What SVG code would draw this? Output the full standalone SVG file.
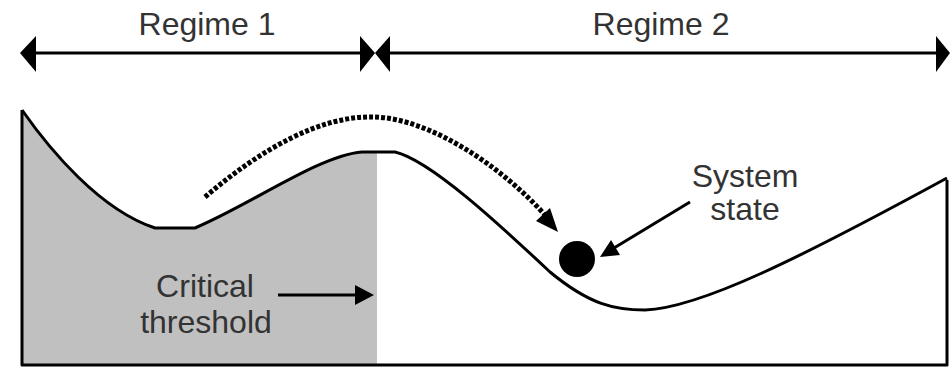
<svg xmlns="http://www.w3.org/2000/svg" width="951" height="368" viewBox="0 0 951 368">
<style>
.lbl{font-family:"Liberation Sans",Arial,sans-serif;font-size:32px;fill:#333;text-anchor:middle}
.ln{stroke:#000;stroke-width:3;fill:none;stroke-linejoin:round}
.head{fill:#000}
</style>
<rect width="951" height="368" fill="#fff"/>
<g id="threshold-region">
<path d="M22,110 C50,150 100,210 155,228 L195,228 C250,205 320,155 362,152 L377,152 L377,365 L22,365 Z" fill="#c0c0c0"/>
</g>
<g id="landscape">
<path class="ln" d="M22,110 C50,150 100,210 155,228 L195,228 C250,205 320,155 362,152 L395,152 C430,160 500,225 550,272 C590,305 615,310 645,310 C700,308 800,258 947,178"/>
<path class="ln" d="M22,110 L22,365 L947,365 L947,180"/>
</g>
<g id="ball">
<circle cx="577" cy="259" r="18" fill="#000"/>
</g>
<g id="connectors">
<line class="ln" x1="30" y1="53" x2="362" y2="53"/>
<line class="ln" x1="386" y1="53" x2="940" y2="53"/>
<polygon class="head" points="20,53 36,36 36,72"/>
<polygon class="head" points="360,36 375,53 360,72"/>
<polygon class="head" points="390,36 375,53 390,72"/>
<polygon class="head" points="936,36 950,53 936,72"/>
<path d="M205,197 C260,150 320,115 375,117 C430,119 500,165 545,215" fill="none" stroke="#000" stroke-width="5" stroke-dasharray="4 2"/>
<polygon class="head" points="558,232 536,221 550,208"/>
<line class="ln" x1="690" y1="202" x2="614" y2="248"/>
<polygon class="head" points="600,257 620,255 611,240"/>
<line class="ln" x1="278" y1="295" x2="358" y2="295"/>
<polygon class="head" points="374,295 355,285 355,305"/>
</g>
<g id="labels">
<text class="lbl" x="207" y="35">Regime 1</text>
<text class="lbl" x="661" y="35">Regime 2</text>
<text class="lbl" x="745" y="187">System</text>
<text class="lbl" x="745" y="220">state</text>
<text class="lbl" x="205" y="297">Critical</text>
<text class="lbl" x="206" y="333">threshold</text>
</g>
</svg>
